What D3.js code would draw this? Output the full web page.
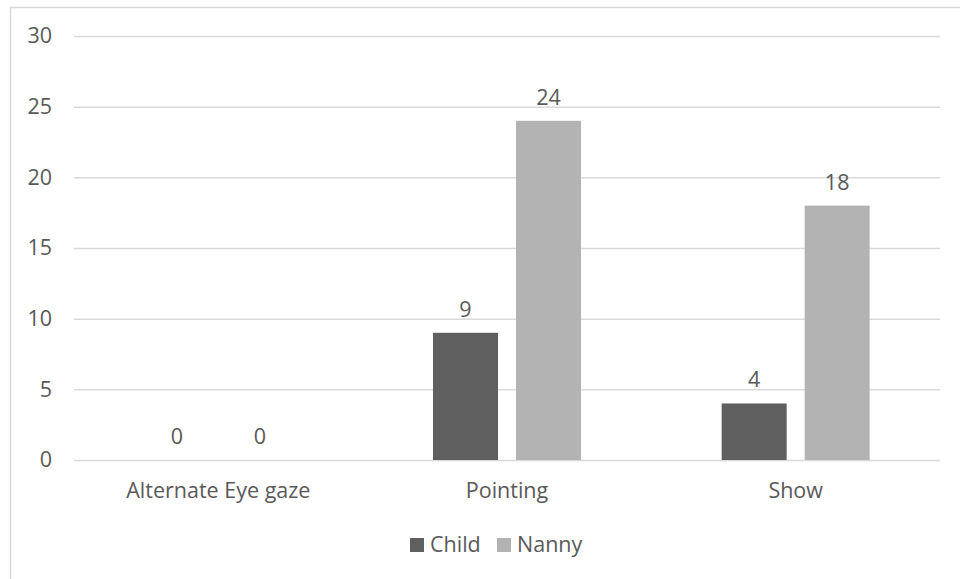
<!DOCTYPE html>
<html>
<head>
<meta charset="utf-8">
<script src="https://cdn.jsdelivr.net/npm/d3@7/dist/d3.min.js"></script>
<style>
  html, body { margin: 0; padding: 0; background: #fff; }
  svg { display: block; }
  text { font-family: "Open Sans", "Noto Sans", sans-serif; fill: #595959; }
</style>
</head>
<body>
<svg id="chart" width="960" height="579"></svg>
<script>
// Gesture counts by category and person
const categories = ["Alternate Eye gaze", "Pointing", "Show"];
const seriesNames = ["Child", "Nanny"];
const childValues = [0, 9, 4];
const nannyValues = [0, 24, 18];
const yTicks = [0, 5, 10, 15, 20, 25, 30];
const seriesColors = ["#5f5f5f", "#b3b3b3"];

const seriesValues = [childValues, nannyValues];

const svg = d3.select("#chart");
const W = 960, H = 579;
const plot = { left: 74, right: 940, top: 36, bottom: 460 };
const fontSize = "21.5px";

// Outer chart frame
svg.append("rect")
  .attr("x", 10.5).attr("y", 7.5)
  .attr("width", W + 20).attr("height", H + 20)
  .attr("fill", "#fff")
  .attr("stroke", "#d9d9d9").attr("stroke-width", 1.5);

const y = d3.scaleLinear().domain([0, 30]).range([plot.bottom, plot.top]);
const x0 = d3.scaleBand().domain(categories).range([plot.left, plot.right]).padding(0);
const groupWidth = 148;
const x1 = d3.scaleBand().domain(seriesNames)
  .range([(x0.bandwidth() - groupWidth) / 2, (x0.bandwidth() + groupWidth) / 2])
  .paddingInner(0.217).paddingOuter(0);

// Horizontal gridlines and value axis labels
const yAxis = d3.axisLeft(y).tickValues(yTicks).tickSize(-(plot.right - plot.left)).tickPadding(22);
const gy = svg.append("g").attr("transform", `translate(${plot.left},0)`).call(yAxis);
gy.select(".domain").remove();
gy.selectAll(".tick line").attr("stroke", "#d9d9d9").attr("stroke-width", 1.5);
gy.selectAll(".tick text")
  .attr("fill", "#595959")
  .style("font-size", fontSize)
  .style("font-family", "'Open Sans', sans-serif");

// Category labels
const xAxis = d3.axisBottom(x0).tickSize(0).tickPadding(23);
const gx = svg.append("g").attr("transform", `translate(0,${plot.bottom})`).call(xAxis);
gx.select(".domain").remove();
gx.selectAll(".tick text")
  .attr("fill", "#595959")
  .style("font-size", fontSize)
  .style("font-family", "'Open Sans', sans-serif");

// Bars
const groups = svg.append("g").selectAll("g")
  .data(categories)
  .join("g")
  .attr("transform", d => `translate(${x0(d)},0)`);

groups.selectAll("rect")
  .data((c, i) => seriesNames.map((s, j) => ({ s, j, v: seriesValues[j][i] })))
  .join("rect")
  .attr("x", d => x1(d.s))
  .attr("width", x1.bandwidth())
  .attr("y", d => y(d.v))
  .attr("height", d => y(0) - y(d.v))
  .attr("fill", d => seriesColors[d.j]);

// Value labels
groups.selectAll("text.val")
  .data((c, i) => seriesNames.map((s, j) => ({ s, j, v: seriesValues[j][i] })))
  .join("text")
  .attr("class", "val")
  .attr("x", d => x1(d.s) + x1.bandwidth() / 2)
  .attr("y", d => y(d.v) - 16)
  .attr("text-anchor", "middle")
  .style("font-size", fontSize)
  .text(d => d.v);

// Legend
const legend = svg.append("g");
const legendItems = [
  { name: seriesNames[0], color: seriesColors[0], x: 410 },
  { name: seriesNames[1], color: seriesColors[1], x: 497 }
];
legendItems.forEach(item => {
  legend.append("rect")
    .attr("x", item.x).attr("y", 538)
    .attr("width", 14).attr("height", 14)
    .attr("fill", item.color);
  legend.append("text")
    .attr("x", item.x + 20).attr("y", 552)
    .style("font-size", fontSize)
    .text(item.name);
});
</script>
</body>
</html>
